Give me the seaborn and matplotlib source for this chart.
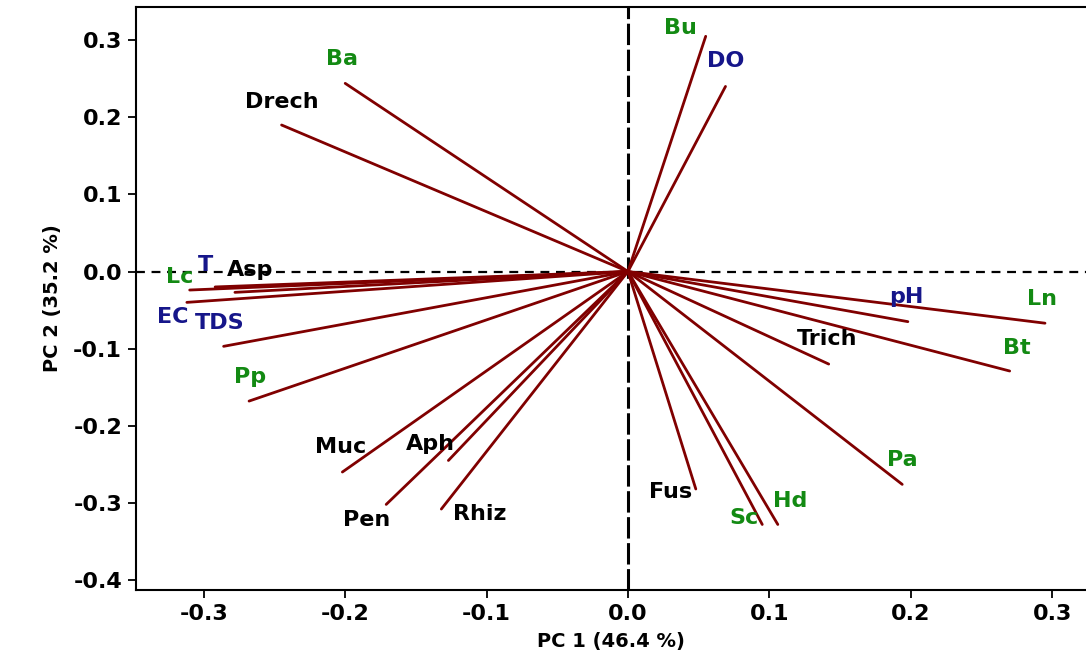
import pandas as pd
import matplotlib
matplotlib.use("Agg")
import matplotlib.pyplot as plt
import seaborn as sns

# loadings (PC1, PC2)
variables = ["Bu", "DO", "Ba", "Drech", "T", "Asp", "Lc", "EC", "TDS", "Pp",
             "Muc", "Aph", "Pen", "Rhiz", "Fus", "Sc", "Hd", "Pa", "Trich",
             "Bt", "pH", "Ln"]
pc1 = [0.055, 0.069, -0.200, -0.245, -0.292, -0.278, -0.310, -0.312, -0.286, -0.268,
       -0.202, -0.127, -0.171, -0.132, 0.048, 0.095, 0.106, 0.194, 0.142,
       0.270, 0.198, 0.295]
pc2 = [0.305, 0.240, 0.244, 0.190, -0.020, -0.027, -0.024, -0.040, -0.097, -0.168,
       -0.260, -0.245, -0.302, -0.308, -0.282, -0.328, -0.328, -0.276, -0.120,
       -0.129, -0.065, -0.067]
groups = ["bio", "env", "bio", "fungi", "env", "fungi", "bio", "env", "env", "bio",
          "fungi", "fungi", "fungi", "fungi", "fungi", "bio", "bio", "bio", "fungi",
          "bio", "env", "bio"]
label_x = [0.037, 0.069, -0.202, -0.245, -0.299, -0.267, -0.317, -0.322, -0.289, -0.267,
           -0.203, -0.140, -0.185, -0.105, 0.030, 0.082, 0.115, 0.194, 0.141,
           0.275, 0.197, 0.293]
label_y = [0.316, 0.273, 0.275, 0.220, 0.008, 0.002, -0.007, -0.059, -0.067, -0.137,
           -0.228, -0.223, -0.322, -0.315, -0.286, -0.320, -0.297, -0.245, -0.088,
           -0.099, -0.033, -0.035]

group_colors = {"bio": "#138a13", "env": "#16168a", "fungi": "#000000"}

rows = []
for v, x, y in zip(variables, pc1, pc2):
    rows.append({"var": v, "pc1": 0.0, "pc2": 0.0})
    rows.append({"var": v, "pc1": x, "pc2": y})
df = pd.DataFrame(rows)

sns.set_style("white")
plt.rcParams["font.family"] = ["DejaVu Sans"]
plt.rcParams["text.color"] = "black"
plt.rcParams["axes.labelcolor"] = "black"
plt.rcParams["xtick.color"] = "black"
plt.rcParams["ytick.color"] = "black"

fig = plt.figure(figsize=(10.86, 6.67), dpi=100)
ax = fig.add_axes([0.1252, 0.1154, 0.8748, 0.8741])

ax.axhline(0, color="black", lw=1.6, ls=(0, (4, 3)), zorder=1)
ax.axvline(0, color="black", lw=2.2, ls=(0, (7, 1.5)), zorder=1)

sns.lineplot(data=df, x="pc1", y="pc2", units="var", estimator=None, sort=False,
             color="#800000", lw=2, ax=ax, zorder=2)

for v, lx, ly, g in zip(variables, label_x, label_y, groups):
    ax.text(lx, ly, v, color=group_colors[g], fontsize=16, fontweight="bold",
            ha="center", va="center", zorder=3)

ax.set_xlim(-0.348, 0.324)
ax.set_ylim(-0.413, 0.343)
ax.set_xticks([-0.3, -0.2, -0.1, 0.0, 0.1, 0.2, 0.3])
ax.set_yticks([-0.4, -0.3, -0.2, -0.1, 0.0, 0.1, 0.2, 0.3])
ax.set_xticklabels(["-0.3", "-0.2", "-0.1", "0.0", "0.1", "0.2", "0.3"])
ax.set_yticklabels(["-0.4", "-0.3", "-0.2", "-0.1", "0.0", "0.1", "0.2", "0.3"])
ax.tick_params(axis="both", direction="out", length=6, width=1.3, colors="black",
               labelsize=16, pad=4, bottom=True, left=True)
for lab in ax.get_xticklabels() + ax.get_yticklabels():
    lab.set_fontweight("bold")

ax.set_xlabel("PC 1 (46.4 %)", fontsize=14, fontweight="bold", labelpad=6)
ax.set_ylabel("PC 2 (35.2 %)", fontsize=14, fontweight="bold", labelpad=8)

for side in ["left", "bottom", "top"]:
    ax.spines[side].set_color("black")
    ax.spines[side].set_linewidth(1.5)
ax.spines["right"].set_visible(False)

fig.savefig("out.png", dpi=100)
